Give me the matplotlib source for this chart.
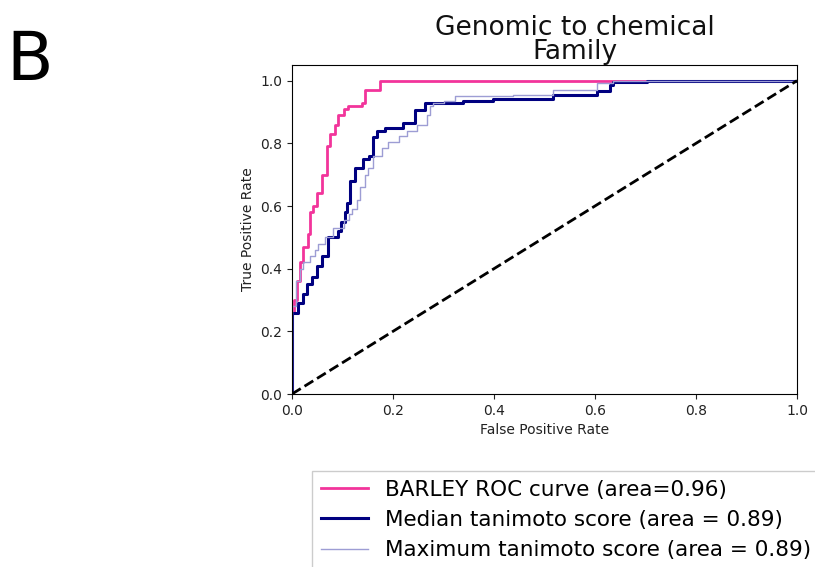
import matplotlib
matplotlib.use("Agg")
import matplotlib.pyplot as plt

# ROC curves: false positive rate / true positive rate vertices
barley_fpr = [0.0, 0.0, 0.004, 0.009, 0.016, 0.022, 0.032, 0.036, 0.042, 0.050, 0.059,
              0.069, 0.075, 0.085, 0.092, 0.102, 0.111, 0.138, 0.145, 0.172, 0.174, 1.0]
barley_tpr = [0.0, 0.26, 0.30, 0.36, 0.42, 0.47, 0.51, 0.58, 0.60, 0.64, 0.70,
              0.79, 0.83, 0.86, 0.89, 0.91, 0.92, 0.93, 0.97, 0.97, 1.0, 1.0]

median_fpr = [0.0, 0.0, 0.012, 0.022, 0.029, 0.039, 0.049, 0.059, 0.072, 0.092, 0.098,
              0.104, 0.108, 0.115, 0.125, 0.141, 0.152, 0.161, 0.168, 0.184, 0.220,
              0.244, 0.263, 0.339, 0.399, 0.517, 0.603, 0.630, 0.636, 0.702, 1.0]
median_tpr = [0.0, 0.26, 0.29, 0.32, 0.35, 0.375, 0.41, 0.44, 0.50, 0.52, 0.55,
              0.58, 0.61, 0.68, 0.72, 0.75, 0.76, 0.82, 0.84, 0.85, 0.865,
              0.905, 0.93, 0.936, 0.941, 0.955, 0.966, 0.987, 0.995, 1.0, 1.0]

max_fpr = [0.0, 0.0, 0.008, 0.015, 0.022, 0.036, 0.045, 0.052, 0.065, 0.082, 0.102,
           0.112, 0.118, 0.128, 0.135, 0.145, 0.151, 0.161, 0.178, 0.191, 0.211,
           0.227, 0.247, 0.267, 0.273, 0.280, 0.300, 0.323, 0.438, 0.517, 0.603,
           0.636, 1.0]
max_tpr = [0.0, 0.28, 0.36, 0.40, 0.42, 0.44, 0.46, 0.48, 0.50, 0.53, 0.555,
           0.575, 0.59, 0.62, 0.66, 0.70, 0.72, 0.76, 0.785, 0.805, 0.825,
           0.84, 0.86, 0.89, 0.92, 0.93, 0.935, 0.95, 0.955, 0.97, 0.993,
           1.0, 1.0]

labels = ["BARLEY ROC curve (area=0.96)",
          "Median tanimoto score (area = 0.89)",
          "Maximum tanimoto score (area = 0.89)"]
ticks = [0.0, 0.2, 0.4, 0.6, 0.8, 1.0]

W, H = 815, 567
fig = plt.figure(figsize=(W / 100, H / 100), dpi=100)
ax = fig.add_axes([292 / W, 1 - 394 / H, 505 / W, 329 / H])

l1, = ax.step(barley_fpr, barley_tpr, where="post", color="#f2349b", lw=2.0)
l2, = ax.step(median_fpr, median_tpr, where="post", color="#000080", lw=2.2)
l3, = ax.step(max_fpr, max_tpr, where="post", color="#9d9dd4", lw=1.0)
ax.plot([0, 1], [0, 1], color="black", lw=2, linestyle="--")

ax.set_xlim(0.0, 1.0)
ax.set_ylim(0.0, 1.05)
ax.set_xticks(ticks)
ax.set_yticks(ticks)
ax.tick_params(labelsize=10, colors="#222222")
ax.set_xlabel("False Positive Rate", fontsize=10, color="#222222")
ax.set_ylabel("True Positive Rate", fontsize=10, color="#222222")
ax.set_title("Genomic to chemical\nFamily", fontsize=19, x=0.56,
             linespacing=0.9, pad=3, color="#111111")

fig.legend([l1, l2, l3], labels, loc="upper left",
           bbox_to_anchor=(312 / W, 1 - 471 / H), bbox_transform=fig.transFigure,
           fontsize=15.5, labelspacing=0.48, handlelength=2.2, borderaxespad=0,
           fancybox=False, edgecolor="#cccccc", framealpha=1.0)

fig.text(6 / W, 1 - 80 / H, "B", fontsize=49, ha="left", va="baseline")

fig.savefig("out.png", dpi=100)
